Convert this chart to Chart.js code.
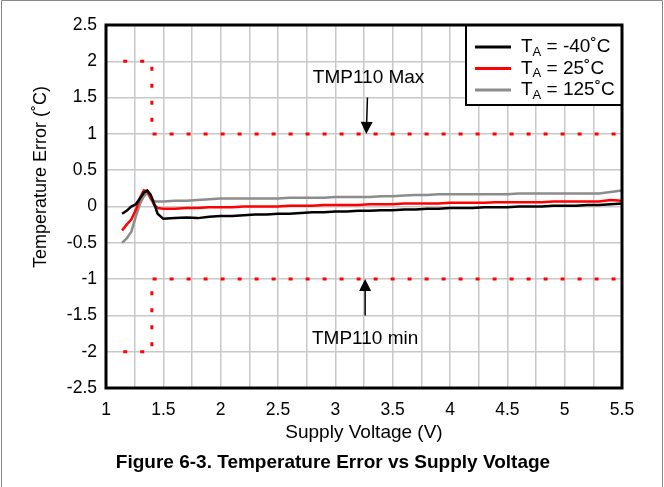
<!DOCTYPE html>
<html>
<head>
<meta charset="utf-8">
<script src="https://cdn.jsdelivr.net/npm/chart.js@4.4.1/dist/chart.umd.min.js"></script>
<style>
  html, body { margin: 0; padding: 0; background: #fff; }
  #wrap { width: 664px; height: 487px; }
</style>
</head>
<body>
<div id="wrap"><canvas id="chart" width="664" height="487"></canvas></div>
<script>
// supply voltage (V), shared by the three curves
const volts = [1.14, 1.18, 1.22, 1.26, 1.30, 1.33, 1.36, 1.39, 1.42, 1.45,
  1.5, 1.6, 1.7, 1.8, 1.9, 2.0, 2.1, 2.2, 2.3, 2.4, 2.5, 2.6, 2.7, 2.8, 2.9,
  3.0, 3.1, 3.2, 3.3, 3.4, 3.5, 3.6, 3.7, 3.8, 3.9, 4.0, 4.1, 4.2, 4.3, 4.4,
  4.5, 4.6, 4.7, 4.8, 4.9, 5.0, 5.1, 5.2, 5.3, 5.4, 5.5];

const errM40 = [-0.10, -0.06, 0.00, 0.03, 0.12, 0.19, 0.22, 0.16, 0.04, -0.10,
  -0.17, -0.16, -0.15, -0.16, -0.14, -0.13, -0.13, -0.12, -0.11, -0.11, -0.10, -0.10, -0.09, -0.08, -0.08,
  -0.07, -0.07, -0.06, -0.06, -0.05, -0.05, -0.04, -0.04, -0.03, -0.03, -0.02, -0.02, -0.02, -0.01, -0.01,
  -0.01, 0.00, 0.00, 0.00, 0.01, 0.01, 0.01, 0.02, 0.02, 0.03, 0.04];

const err25 = [-0.33, -0.25, -0.18, -0.05, 0.13, 0.22, 0.21, 0.12, 0.02, -0.02,
  -0.03, -0.03, -0.02, -0.02, -0.01, -0.01, -0.01, 0.00, 0.00, 0.00, 0.00, 0.01, 0.01, 0.01, 0.02,
  0.02, 0.02, 0.02, 0.03, 0.03, 0.03, 0.04, 0.04, 0.04, 0.04, 0.05, 0.05, 0.05, 0.05, 0.06,
  0.06, 0.06, 0.06, 0.06, 0.07, 0.07, 0.07, 0.07, 0.07, 0.09, 0.08];

const err125 = [-0.50, -0.44, -0.35, -0.14, 0.05, 0.14, 0.19, 0.10, 0.07, 0.07,
  0.07, 0.08, 0.08, 0.09, 0.10, 0.11, 0.11, 0.11, 0.11, 0.11, 0.11, 0.12, 0.12, 0.12, 0.12,
  0.13, 0.13, 0.13, 0.13, 0.14, 0.14, 0.15, 0.16, 0.16, 0.17, 0.17, 0.17, 0.17, 0.17, 0.17,
  0.17, 0.18, 0.18, 0.18, 0.18, 0.18, 0.18, 0.18, 0.18, 0.20, 0.22];

// TMP110 spec limits
const limitV = [1.15, 1.4, 1.4, 5.5];
const maxLimit = [2, 2, 1, 1];
const minLimit = [-2, -2, -1, -1];

const seriesTemps = ['-40', '25', '125'];
const xTicks = [1, 1.5, 2, 2.5, 3, 3.5, 4, 4.5, 5, 5.5];

const FONT = 'Arial, "Liberation Sans", Helvetica, sans-serif';

function pts(xs, ys) {
  return xs.map((x, i) => ({x: x, y: ys[i]}));
}

const curve = (label, vals, color) => ({
  label: label, data: pts(volts, vals), borderColor: color, backgroundColor: color,
  borderWidth: 2.5, pointRadius: 0, showLine: true, tension: 0
});
const limit = (label, vals) => ({
  label: label, data: pts(limitV, vals), borderColor: '#ff0000',
  borderWidth: 3, borderDash: [4, 13], borderCapStyle: 'butt',
  pointRadius: 0, showLine: true, tension: 0
});

// frame, legend box, annotations, titles
const decor = {
  id: 'decor',
  beforeDraw(chart) {
    const c = chart.ctx;
    c.save();
    c.fillStyle = '#fff';
    c.fillRect(0, 0, chart.width, chart.height);
    c.strokeStyle = '#8a8a8a';
    c.lineWidth = 1;
    c.beginPath();
    c.moveTo(1.5, chart.height); c.lineTo(1.5, 0.5); c.lineTo(662.5, 0.5); c.lineTo(662.5, chart.height);
    c.stroke();
    c.restore();
  },
  afterDraw(chart) {
    const c = chart.ctx, a = chart.chartArea;
    const xs = chart.scales.x, ys = chart.scales.y;
    c.save();

    // y title
    c.fillStyle = '#000';
    c.font = '18px ' + FONT;
    c.textAlign = 'center';
    c.textBaseline = 'middle';
    c.save();
    c.translate(41, 177);
    c.rotate(-Math.PI / 2);
    c.fillText('Temperature Error (\u02DAC)', 0, 0);
    c.restore();

    // caption
    c.font = 'bold 19px ' + FONT;
    c.fillText('Figure 6-3. Temperature Error vs Supply Voltage', 333, 463);

    // annotations
    c.strokeStyle = '#000';
    c.font = '19px ' + FONT;
    c.fillText('TMP110 Max', xs.getPixelForValue(3.29), ys.getPixelForValue(1.78));
    c.fillText('TMP110 min', xs.getPixelForValue(3.26), ys.getPixelForValue(-1.82));
    arrow(c, xs.getPixelForValue(3.28), ys.getPixelForValue(1.5), xs.getPixelForValue(3.27), ys.getPixelForValue(1.0));
    arrow(c, xs.getPixelForValue(3.26), ys.getPixelForValue(-1.5), xs.getPixelForValue(3.26), ys.getPixelForValue(-1.0));

    // legend
    const bw = 156, bh = 80;
    const bx = a.right - bw, by = a.top;
    c.fillStyle = '#fff';
    c.fillRect(bx, by, bw, bh);
    c.lineWidth = 2;
    c.strokeRect(bx, by, bw, bh);
    chart.data.datasets.slice(0, 3).forEach((ds, i) => {
      const y = by + 22 + i * 21.5;
      c.strokeStyle = ds.borderColor;
      c.lineWidth = 3;
      c.beginPath();
      c.moveTo(bx + 9, y); c.lineTo(bx + 45, y);
      c.stroke();
      c.fillStyle = '#000';
      c.textAlign = 'left';
      c.textBaseline = 'middle';
      let tx = bx + 55;
      c.font = '19px ' + FONT;
      c.fillText('T', tx, y);
      tx += c.measureText('T').width;
      c.font = '13px ' + FONT;
      c.fillText('A', tx, y + 5);
      tx += c.measureText('A').width;
      c.font = '19px ' + FONT;
      c.fillText(' = ' + seriesTemps[i] + '\u02DAC', tx, y);
    });

    // plot frame
    c.strokeStyle = '#000';
    c.lineWidth = 3;
    c.strokeRect(a.left, a.top, a.right - a.left, a.bottom - a.top);
    c.restore();
  }
};

function arrow(c, x0, y0, x1, y1) {
  const ang = Math.atan2(y1 - y0, x1 - x0), len = 12, half = 6;
  const bx = x1 - len * Math.cos(ang), by = y1 - len * Math.sin(ang);
  c.lineWidth = 1.5;
  c.beginPath();
  c.moveTo(x0, y0); c.lineTo(bx, by);
  c.stroke();
  c.beginPath();
  c.moveTo(x1, y1);
  c.lineTo(bx + half * Math.sin(ang), by - half * Math.cos(ang));
  c.lineTo(bx - half * Math.sin(ang), by + half * Math.cos(ang));
  c.closePath();
  c.fill();
}

new Chart(document.getElementById('chart'), {
  type: 'scatter',
  data: {
    datasets: [
      curve('TA = -40°C', errM40, '#000000'),
      curve('TA = 25°C', err25, '#ff0000'),
      curve('TA = 125°C', err125, '#8c8c8c'),
      limit('TMP110 Max', maxLimit),
      limit('TMP110 min', minLimit)
    ]
  },
  options: {
    responsive: false,
    animation: false,
    layout: {padding: {left: 0, right: 42, top: 25, bottom: 34}},
    plugins: {
      legend: {display: false},
      tooltip: {enabled: false}
    },
    scales: {
      x: {
        type: 'linear', min: 1, max: 5.5,
        afterFit: s => { s.height = 65; },
        border: {display: false},
        grid: {color: '#c8c8c8', lineWidth: 1.5, drawTicks: false},
        ticks: {
          stepSize: 0.25, padding: 12, color: '#000', maxRotation: 0, autoSkip: false,
          font: {family: FONT, size: 17.5},
          callback: v => xTicks.some(t => Math.abs(t - v) < 1e-6) ? String(Math.round(v * 10) / 10) : ''
        },
        title: {display: true, text: 'Supply Voltage (V)', color: '#000',
          font: {family: FONT, size: 19}, padding: {top: 0, bottom: 8.5}}
      },
      y: {
        type: 'linear', min: -2.5, max: 2.5,
        afterFit: s => { s.width = 106; },
        border: {display: false},
        grid: {color: '#c8c8c8', lineWidth: 1.5, drawTicks: false},
        ticks: {
          stepSize: 0.5, padding: 9, color: '#000',
          font: {family: FONT, size: 17.5},
          callback: v => String(Math.round(v * 10) / 10)
        }
      }
    }
  },
  plugins: [decor]
});
</script>
</body>
</html>
